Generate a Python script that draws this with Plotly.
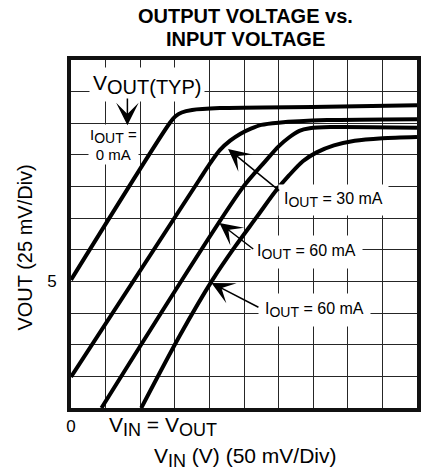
import plotly.graph_objects as go

# Axes are in graticule divisions: V_IN at 50 mV/Div, V_OUT at 25 mV/Div
vin_a = [0.0, 2.85, 3.02, 3.2, 3.5, 4.3, 7.4, 10.0]
vout_a = [4.05, 9.0, 9.22, 9.34, 9.42, 9.48, 9.52, 9.57]

vin_b = [0.0, 3.7, 4.0, 4.3, 4.6, 4.9, 5.2, 5.5, 6.0, 7.4, 10.0]
vout_b = [0.98, 7.2, 7.7, 8.15, 8.45, 8.67, 8.83, 8.95, 9.02, 9.1, 9.13]

vin_c = [0.88, 4.95, 5.6, 6.0, 6.3, 6.6, 6.9, 7.5, 10.0]
vout_c = [0.0, 6.95, 7.78, 8.27, 8.55, 8.76, 8.84, 8.88, 8.86]

vin_d = [2.03, 3.15, 4.09, 4.74, 5.37, 5.91, 6.3, 6.7, 7.1, 7.6, 8.2, 9.0, 10.0]
vout_d = [0.0, 2.3, 4.05, 5.1, 6.04, 6.85, 7.35, 7.8, 8.08, 8.3, 8.45, 8.53, 8.57]

x_divs = list(range(0, 11))
y_divs = list(range(0, 12))
x_tick_text = ["0"] + [""] * 10
y_tick_text = ["", "", "", "", "5", "", "", "", "", "", "", ""]

FONT = "Liberation Sans, Arial, sans-serif"
INK = "#111111"

fig = go.Figure()
for xs, ys in [(vin_a, vout_a), (vin_b, vout_b), (vin_c, vout_c), (vin_d, vout_d)]:
    fig.add_trace(go.Scatter(
        x=xs, y=ys, mode="lines",
        line=dict(color="black", width=4, shape="spline", smoothing=0.8),
        showlegend=False, hoverinfo="skip",
    ))

axis_common = dict(
    showgrid=True, gridcolor="#262626", gridwidth=1.3,
    zeroline=False, showline=True, linecolor=INK, linewidth=4, mirror=True,
    ticks="", tickfont=dict(family=FONT, size=17, color="black"),
    tickmode="array", fixedrange=True,
)
fig.update_xaxes(range=[0, 10], tickvals=x_divs, ticktext=x_tick_text,
                 ticklabelstandoff=0, **axis_common)
fig.update_yaxes(range=[0, 11], tickvals=y_divs, ticktext=y_tick_text,
                 ticklabelstandoff=7, **axis_common)

label_font = dict(family=FONT, size=16, color="black")
sub_out = '<span style="font-size:14px">OUT</span>'

annotations = [
    # callout text boxes
    dict(x=2.21, y=10.24, text='V<sub><span style="font-size:20px">OUT(TYP)</span></sub>',
         font=dict(family=FONT, size=21, color="black"),
         bgcolor="white", borderpad=3),
    dict(x=1.23, y=8.34, text=f"I<sub>{sub_out}</sub> =<br>0 mA",
         font=dict(family=FONT, size=15, color="black"),
         bgcolor="white", borderpad=1),
    dict(x=7.6, y=6.57, text=f"I<sub>{sub_out}</sub> = 30 mA",
         font=label_font, bgcolor="white", borderpad=5),
    dict(x=6.8, y=4.93, text=f"I<sub>{sub_out}</sub> = 60 mA",
         font=label_font, bgcolor="white", borderpad=6),
    dict(x=7.03, y=3.1, text=f"I<sub>{sub_out}</sub> = 60 mA",
         font=label_font, bgcolor="white", borderpad=6),
]
for a in annotations:
    a.update(xref="x", yref="y", showarrow=False, xanchor="center", yanchor="middle")

# pointer arrows: (tip_x, tip_y, tail_x, tail_y)
arrows = [
    (1.63, 8.94, 1.63, 9.83),
    (4.54, 8.19, 6.06, 6.83),
    (4.29, 5.85, 5.31, 4.99),
    (4.06, 3.95, 5.46, 3.16),
]
for tx, ty, sx, sy in arrows:
    annotations.append(dict(
        x=tx, y=ty, ax=sx, ay=sy, xref="x", yref="y", axref="x", ayref="y",
        text="", showarrow=True, arrowhead=3, arrowsize=2.5, arrowwidth=1.5,
        arrowcolor="black",
    ))

big = dict(family=FONT, size=21, color="black")
title_font = dict(family=FONT, size=20, color="black")

# chart title, axis titles and the V_IN = V_OUT marker under the graticule
annotations += [
    dict(x=0.503, y=1.1265, text="<b>OUTPUT VOLTAGE vs.</b>", font=title_font),
    dict(x=0.503, y=1.0617, text="<b>INPUT VOLTAGE</b>", font=title_font),
    dict(x=-0.134, y=0.46, text="VOUT (25 mV/Div)", textangle=-90,
         font=dict(family=FONT, size=20, color="black")),
    dict(x=0.503, y=-0.141,
         text='V<sub><span style="font-size:18px">IN</span></sub> (V) (50 mV/Div)',
         font=big),
    dict(x=0.103, y=-0.052, xanchor="left",
         text='V<sub><span style="font-size:18px">IN</span></sub> = V<sub><span style="font-size:18px">OUT</span></sub>',
         font=big),
]
for a in annotations[-5:]:
    a.setdefault("xanchor", "center")
    a.update(xref="paper", yref="paper", showarrow=False, yanchor="middle")

fig.update_layout(
    width=422, height=472,
    margin=dict(l=71, r=1, t=60, b=64),
    paper_bgcolor="white", plot_bgcolor="white",
    annotations=annotations,
    showlegend=False,
)

fig.write_html("out.html")
